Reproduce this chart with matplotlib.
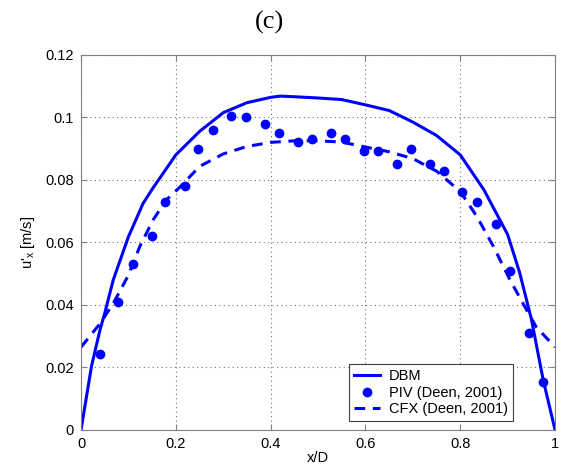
import matplotlib
matplotlib.use("Agg")
import matplotlib.pyplot as plt

plt.rcParams["font.family"] = ["Liberation Sans", "DejaVu Sans"]
plt.rcParams["mathtext.default"] = "regular"

# DBM simulation profile
dbm_x = [0.0, 0.022, 0.04, 0.05, 0.068, 0.1, 0.131, 0.15, 0.2, 0.25, 0.3, 0.35,
         0.4, 0.42, 0.45, 0.5, 0.55, 0.6, 0.65, 0.7, 0.75, 0.8, 0.85, 0.9,
         0.925, 0.95, 0.975, 1.0]
dbm_y = [0.0, 0.0203, 0.032, 0.0373, 0.048, 0.0618, 0.0725, 0.077, 0.088,
         0.0955, 0.1015, 0.1047, 0.1064, 0.1068, 0.1066, 0.1062, 0.1057,
         0.104, 0.1022, 0.0985, 0.0942, 0.088, 0.0768, 0.0625, 0.0505,
         0.0355, 0.016, 0.0]

# PIV measurements
piv_x = [0.04, 0.079, 0.109, 0.149, 0.178, 0.219, 0.247, 0.279, 0.317, 0.347,
         0.388, 0.417, 0.457, 0.488, 0.528, 0.557, 0.598, 0.627, 0.667, 0.697,
         0.737, 0.766, 0.804, 0.836, 0.876, 0.905, 0.945, 0.975]
piv_y = [0.0242, 0.041, 0.0531, 0.0622, 0.073, 0.078, 0.090, 0.0961, 0.1003,
         0.100, 0.098, 0.0951, 0.0922, 0.093, 0.0951, 0.093, 0.0892, 0.0892,
         0.0851, 0.090, 0.085, 0.083, 0.076, 0.073, 0.066, 0.051, 0.0311,
         0.0153]

# CFX simulation profile
cfx_x = [0.0, 0.04, 0.068, 0.1, 0.124, 0.152, 0.18, 0.21, 0.25, 0.3, 0.35,
         0.4, 0.45, 0.5, 0.55, 0.6, 0.65, 0.7, 0.75, 0.8, 0.835, 0.87, 0.905,
         0.94, 0.96, 1.0]
cfx_y = [0.0265, 0.034, 0.0405, 0.0495, 0.0587, 0.0672, 0.0736, 0.0779,
         0.0843, 0.0883, 0.0907, 0.092, 0.0925, 0.0925, 0.0921, 0.0905,
         0.089, 0.0868, 0.0828, 0.0763, 0.0683, 0.0587, 0.048, 0.0384,
         0.033, 0.0265]

fig = plt.figure(figsize=(5.63, 4.66), dpi=100)
ax = fig.add_axes([0.1439, 0.0773, 0.842, 0.805])

ax.plot(dbm_x, dbm_y, "-", color="#0000ff", lw=2.2, label="DBM")
ax.plot(piv_x, piv_y, "o", color="#0000ff", ms=6, mec="#0000ff",
        label="PIV (Deen, 2001)")
ax.plot(cfx_x, cfx_y, "--", color="#0000ff", lw=2.2, dashes=(3.5, 2.5),
        label="CFX (Deen, 2001)")

ax.set_xlim(0, 1)
ax.set_ylim(0, 0.12)
ax.set_xticks([0, 0.2, 0.4, 0.6, 0.8, 1.0])
ax.set_xticklabels(["0", "0.2", "0.4", "0.6", "0.8", "1"])
ax.set_yticks([0, 0.02, 0.04, 0.06, 0.08, 0.1, 0.12])
ax.set_yticklabels(["0", "0.02", "0.04", "0.06", "0.08", "0.1", "0.12"])
ax.tick_params(direction="in", top=True, right=True, labelsize=10.5,
               length=4, color="#808080", pad=5)
for s in ax.spines.values():
    s.set_color("#808080")
ax.grid(True, ls=(0, (1, 3)), color="#707070", lw=0.8)

ax.set_xlabel("x/D", fontsize=10.5, labelpad=0)
ax.set_ylabel("u$'_x$ [m/s]", fontsize=10.5, labelpad=6)

leg = ax.legend(loc="lower right", bbox_to_anchor=(0.912, 0.024),
                fontsize=10.5, fancybox=False, framealpha=1,
                edgecolor="#404040", borderaxespad=0, handlelength=1.8,
                handletextpad=0.6, labelspacing=0.15, borderpad=0.35)
leg.get_frame().set_linewidth(0.8)

fig.text(270 / 563, 1 - 22 / 466, "(c)", family=["Liberation Serif"],
         fontsize=19, ha="center", va="center")

fig.savefig("out.png", dpi=100)
